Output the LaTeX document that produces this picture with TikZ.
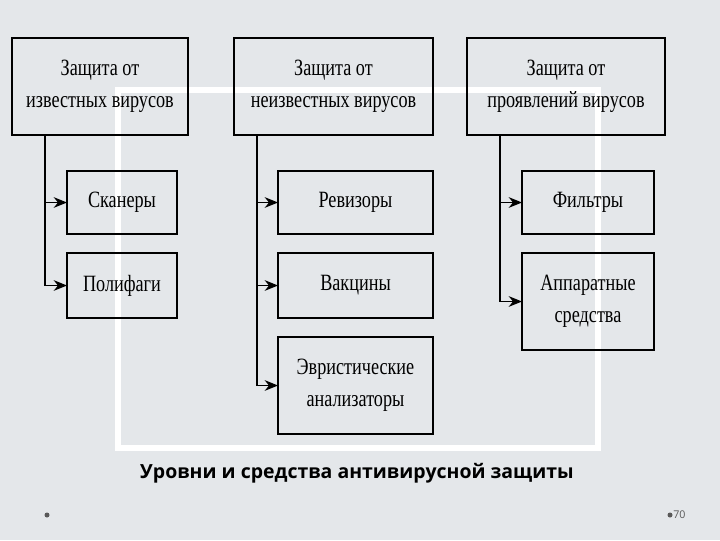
\documentclass[tikz,border=0pt]{standalone}
\usepackage{fontspec}
\setmainfont{Liberation Serif}
\newfontfamily\titlefont{Open Sans}
\usetikzlibrary{arrows.meta}
\begin{document}
\begin{tikzpicture}[x=0.75pt,y=-0.75pt,
  bx/.style={draw=black,line width=1pt},
  lbl/.style={align=center,font=\fontsize{17.5}{24}\selectfont},
  conn/.style={draw=black,line width=0.8pt,-{Stealth[length=10pt,width=8pt]}}]
\fill[fill={rgb,255:red,228;green,231;blue,234}] (0,0) rectangle (720,540);
\useasboundingbox (0,0) rectangle (720,540);
\draw[white,line width=4pt] (118,90) rectangle (598,448);
% boxes
\draw[bx] (12,38) rectangle (188,135); \node[lbl] (a) at (100,86.5) {\scalebox{0.78}[1]{Защита от}\\\scalebox{0.78}[1]{известных вирусов}};
\draw[bx] (234,38) rectangle (433,135); \node[lbl] (b) at (333.5,86.5) {\scalebox{0.78}[1]{Защита от}\\\scalebox{0.78}[1]{неизвестных вирусов}};
\draw[bx] (467,38) rectangle (665,135); \node[lbl] (c) at (566,86.5) {\scalebox{0.78}[1]{Защита от}\\\scalebox{0.78}[1]{проявлений вирусов}};
\draw[bx] (67,171) rectangle (177,234); \node[lbl] (a1) at (122,202.5) {\scalebox{0.78}[1]{Сканеры}};
\draw[bx] (67,253) rectangle (177,318); \node[lbl] (a2) at (122,285.5) {\scalebox{0.78}[1]{Полифаги}};
\draw[bx] (278,171) rectangle (433,234); \node[lbl] (b1) at (355.5,202.5) {\scalebox{0.78}[1]{Ревизоры}};
\draw[bx] (278,253) rectangle (433,318); \node[lbl] (b2) at (355.5,285.5) {\scalebox{0.78}[1]{Вакцины}};
\draw[bx] (278,337) rectangle (433,434); \node[lbl] (b3) at (355.5,385.5) {\scalebox{0.78}[1]{Эвристические}\\\scalebox{0.78}[1]{анализаторы}};
\draw[bx] (522,171) rectangle (654,234); \node[lbl] (c1) at (588,202.5) {\scalebox{0.78}[1]{Фильтры}};
\draw[bx] (522,253) rectangle (654,350); \node[lbl] (c2) at (588,301.5) {\scalebox{0.78}[1]{Аппаратные}\\\scalebox{0.78}[1]{средства}};
% connectors
\coordinate (pa) at (45,135); \coordinate (pb) at (257,135); \coordinate (pc) at (500,135);
\coordinate (ea1) at (67,202.5); \coordinate (ea2) at (67,285.5);
\coordinate (eb1) at (278,202.5); \coordinate (eb2) at (278,285.5); \coordinate (eb3) at (278,385.5);
\coordinate (ec1) at (522,202.5); \coordinate (ec2) at (522,301.5);
\draw[conn] (pa) |- (ea1); \draw[conn] (pa) |- (ea2);
\draw[conn] (pb) |- (eb1); \draw[conn] (pb) |- (eb2); \draw[conn] (pb) |- (eb3);
\draw[conn] (pc) |- (ec1); \draw[conn] (pc) |- (ec2);
\node[font=\titlefont\bfseries\fontsize{14.6}{17}\selectfont] (t) at (357,473) {Уровни и средства антивирусной защиты};
\fill[gray!70!black] (47,515) circle (2.5); \fill[gray!70!black] (670,515) circle (2.5);
\node[font=\titlefont\fontsize{8}{10}\selectfont,text=gray!70!black,anchor=west,inner sep=0] (n) at (673,515) {70};
\end{tikzpicture}
\end{document}
